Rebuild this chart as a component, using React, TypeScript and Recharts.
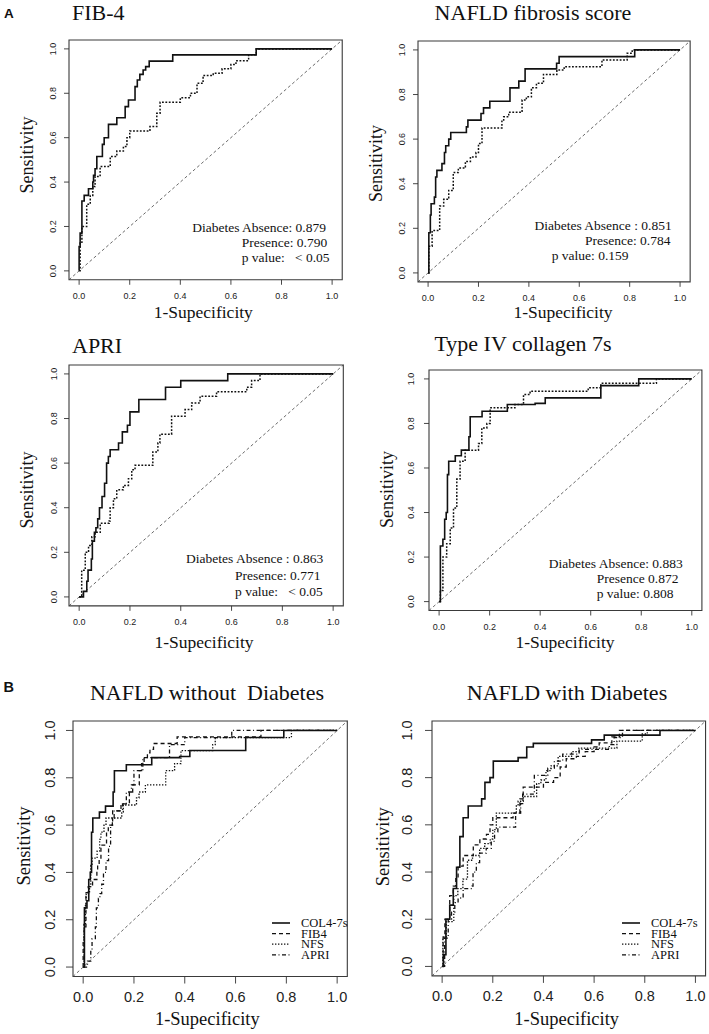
import React from "react";
import { LineChart, Line, XAxis, YAxis, ReferenceArea, ReferenceLine, Legend } from "recharts";

const SERIF = "'Liberation Serif', 'Times New Roman', serif";
const SANS = "'Liberation Sans', Arial, sans-serif";

const axisTicks = [0, 0.2, 0.4, 0.6, 0.8, 1.0];

// ROC vertices: [1-specificity, sensitivity]
const fib4Absence = [
  [0, 0], [0, 0.11], [0.004, 0.17], [0.011, 0.315], [0.02, 0.34], [0.037, 0.37], [0.054, 0.4],
  [0.057, 0.43], [0.063, 0.46], [0.07, 0.515], [0.092, 0.57], [0.099, 0.6], [0.116, 0.66],
  [0.149, 0.69], [0.182, 0.74], [0.195, 0.77], [0.221, 0.83], [0.23, 0.86], [0.24, 0.885],
  [0.253, 0.905], [0.263, 0.92], [0.277, 0.945], [0.37, 0.973], [0.7, 1], [1, 1],
];
const fib4Presence = [
  [0, 0], [0.004, 0.125], [0.011, 0.2], [0.03, 0.3], [0.044, 0.34], [0.054, 0.38], [0.063, 0.425],
  [0.083, 0.47], [0.123, 0.515], [0.149, 0.54], [0.175, 0.56], [0.189, 0.6], [0.2, 0.63],
  [0.28, 0.65], [0.307, 0.71], [0.32, 0.76], [0.4, 0.78], [0.44, 0.8], [0.466, 0.845],
  [0.49, 0.88], [0.53, 0.89], [0.565, 0.91], [0.6, 0.93], [0.62, 0.947], [0.67, 0.973],
  [0.7, 1], [1, 1],
];
const nfsAbsence = [
  [0, 0], [0.003, 0.18], [0.009, 0.26], [0.012, 0.31], [0.025, 0.34], [0.03, 0.43], [0.035, 0.46],
  [0.055, 0.49], [0.065, 0.54], [0.07, 0.57], [0.082, 0.6], [0.09, 0.63], [0.152, 0.655],
  [0.158, 0.685], [0.21, 0.715], [0.22, 0.74], [0.245, 0.77], [0.325, 0.83], [0.36, 0.86],
  [0.385, 0.915], [0.51, 0.94], [0.52, 0.97], [0.82, 1], [1, 1],
];
const nfsPresence = [
  [0, 0], [0.003, 0.12], [0.016, 0.19], [0.046, 0.3], [0.062, 0.33], [0.082, 0.37], [0.1, 0.45],
  [0.12, 0.47], [0.148, 0.5], [0.168, 0.52], [0.19, 0.54], [0.2, 0.58], [0.214, 0.65],
  [0.293, 0.68], [0.3, 0.7], [0.32, 0.72], [0.373, 0.775], [0.39, 0.79], [0.41, 0.83],
  [0.43, 0.85], [0.458, 0.89], [0.511, 0.91], [0.54, 0.925], [0.69, 0.955], [0.79, 0.985],
  [0.81, 1], [1, 1],
];
const apriAbsence = [
  [0, 0], [0.017, 0.025], [0.03, 0.07], [0.035, 0.12], [0.048, 0.17], [0.052, 0.25], [0.06, 0.29],
  [0.066, 0.31], [0.073, 0.35], [0.08, 0.4], [0.09, 0.45], [0.1, 0.51], [0.108, 0.6],
  [0.115, 0.63], [0.122, 0.66], [0.155, 0.69], [0.17, 0.74], [0.19, 0.77], [0.2, 0.83],
  [0.235, 0.885], [0.34, 0.94], [0.4, 0.97], [0.585, 1], [1, 1],
];
const apriPresence = [
  [0, 0], [0.01, 0.12], [0.024, 0.2], [0.037, 0.23], [0.05, 0.27], [0.063, 0.29], [0.083, 0.33],
  [0.118, 0.34], [0.122, 0.4], [0.135, 0.44], [0.148, 0.48], [0.174, 0.5], [0.194, 0.53],
  [0.207, 0.57], [0.22, 0.59], [0.29, 0.65], [0.31, 0.69], [0.318, 0.73], [0.364, 0.81],
  [0.417, 0.84], [0.443, 0.87], [0.476, 0.9], [0.541, 0.92], [0.66, 0.94], [0.679, 0.97],
  [0.712, 1], [1, 1],
];
const col4Absence = [
  [0, 0], [0.005, 0.25], [0.015, 0.28], [0.022, 0.37], [0.028, 0.4], [0.033, 0.57], [0.038, 0.63],
  [0.064, 0.655], [0.088, 0.68], [0.118, 0.74], [0.123, 0.83], [0.17, 0.855], [0.27, 0.885],
  [0.38, 0.89], [0.42, 0.915], [0.64, 0.97], [0.79, 1], [1, 1],
];
const col4Presence = [
  [0, 0], [0.005, 0.05], [0.015, 0.2], [0.03, 0.26], [0.044, 0.33], [0.057, 0.42], [0.07, 0.55],
  [0.083, 0.63], [0.103, 0.68], [0.156, 0.71], [0.169, 0.78], [0.189, 0.8], [0.202, 0.87],
  [0.3, 0.885], [0.334, 0.93], [0.36, 0.945], [0.59, 0.96], [0.64, 0.98], [0.86, 1], [1, 1],
];

const aTitles = ["FIB-4", "NAFLD fibrosis score", "APRI", "Type IV collagen 7s"];
const bTitles = ["NAFLD without  Diabetes", "NAFLD with Diabetes"];
const absenceText = ["Diabetes Absence: 0.879", "Diabetes Absence : 0.851", "Diabetes Absence : 0.863", "Diabetes Absence: 0.883"];
const presenceText = ["Presence: 0.790", "Presence: 0.784", "Presence: 0.771", "Presence 0.872"];
const pValueText = ["p value:   < 0.05", "p value: 0.159", "p value:   < 0.05", "p value: 0.808"];
const markerNames = ["COL4-7s", "FIB4", "NFS", "APRI"];

const toPts = (arr: number[][]) => arr.map(([x, y]) => ({ x, y }));

const SOLID = { width: 1.6, dash: undefined as string | undefined };
const DOTTED_A = { width: 1.5, dash: "1.8 1.6" };
const bStyles: Record<string, { width: number; dash?: string }> = {
  "COL4-7s": { width: 1.6 },
  FIB4: { width: 1.3, dash: "4 3" },
  NFS: { width: 1.3, dash: "1.4 1.6" },
  APRI: { width: 1.3, dash: "4 2.5 1 2.5" },
};

// pixel positions of the 0 and 1 ticks of each panel
const panels = [
  { x0: 79, x1: 332, y1: 49, y0: 271, big: false, xOff: 16, yOff: 16.5 },
  { x0: 428, x1: 680, y1: 50, y0: 273, big: false, xOff: 16, yOff: 16.5 },
  { x0: 79, x1: 333, y1: 374.3, y0: 597.3, big: false, xOff: 16, yOff: 15.5 },
  { x0: 439, x1: 691.7, y1: 379, y0: 601.7, big: false, xOff: 16, yOff: 18.5 },
  { x0: 82.7, x1: 336.7, y1: 730.7, y0: 967.3, big: true, xOff: 20, yOff: 23 },
  { x0: 441.7, x1: 695, y1: 730.7, y0: 966.7, big: true, xOff: 20, yOff: 25 },
];

const PAD_L = 46, PAD_B = 34, PAD_T = 4, PAD_R = 4;
const LEG_W = 96, LEG_H = 50;

function boxOf(p: typeof panels[number]) {
  const ux = p.x1 - p.x0, uy = p.y0 - p.y1;
  return { left: p.x0 - 0.04 * ux, right: p.x1 + 0.04 * ux, top: p.y1 - 0.04 * uy, bottom: p.y0 + 0.04 * uy };
}

type Series = { name: string; points: number[][]; width: number; dash?: string };

function LegendBox({ payload }: any) {
  const items = (payload || []).slice().sort((a: any, b: any) => markerNames.indexOf(a.value) - markerNames.indexOf(b.value));
  return (
    <svg width={LEG_W} height={LEG_H} style={{ display: "block", overflow: "visible" }}>
      {items.map((it: any, i: number) => {
        const st = bStyles[it.value] || { width: 1.3 };
        const cy = 6 + i * 10.6;
        return (
          <g key={it.value}>
            <line x1={0} x2={18} y1={cy} y2={cy} stroke="#111" strokeWidth={st.width} strokeDasharray={st.dash} />
            <text x={29} y={cy + 4.2} fontFamily={SERIF} fontSize={12.5} fill="#111">{it.value}</text>
          </g>
        );
      })}
    </svg>
  );
}

function RocChart({ panel, series, legendAt }: { panel: typeof panels[number]; series: Series[]; legendAt?: [number, number] }) {
  const b = boxOf(panel);
  const w = b.right - b.left + PAD_L + PAD_R;
  const h = b.bottom - b.top + PAD_T + PAD_B;
  const divLeft = b.left - PAD_L, divTop = b.top - PAD_T;
  const fs = panel.big ? 14.5 : 9;
  const tickSize = panel.big ? 7 : 5;
  const xShift = panel.xOff + 0.36 * fs - tickSize;
  const yShift = panel.yOff - 0.36 * fs - tickSize;
  const fmt = (v: number) => v.toFixed(1);
  return (
    <div style={{ position: "absolute", left: divLeft, top: divTop }}>
      <LineChart width={w} height={h} margin={{ top: PAD_T, right: PAD_R, left: 0, bottom: 0 }}>
        <XAxis
          type="number"
          dataKey="x"
          domain={[-0.04, 1.04]}
          ticks={axisTicks}
          allowDataOverflow
          height={PAD_B}
          axisLine={false}
          tickSize={tickSize}
          tickMargin={0}
          tickLine={{ stroke: "#333", strokeWidth: 0.9 }}
          tick={(p: any) => (
            <text x={p.x} y={p.y + xShift} textAnchor="middle" fontFamily={SANS} fontSize={fs} fill="#222">
              {fmt(p.payload.value)}
            </text>
          )}
        />
        <YAxis
          type="number"
          dataKey="y"
          domain={[-0.04, 1.04]}
          ticks={axisTicks}
          allowDataOverflow
          width={PAD_L}
          axisLine={false}
          tickSize={tickSize}
          tickMargin={0}
          tickLine={{ stroke: "#333", strokeWidth: 0.9 }}
          tick={(p: any) => {
            const bx = p.x - yShift;
            return (
              <text x={bx} y={p.y} transform={`rotate(-90 ${bx} ${p.y})`} textAnchor="middle" fontFamily={SANS} fontSize={fs} fill="#222">
                {fmt(p.payload.value)}
              </text>
            );
          }}
        />
        <ReferenceArea x1={-0.04} x2={1.04} y1={-0.04} y2={1.04} fill="none" stroke="#3a3a3a" strokeWidth={1.1} ifOverflow="visible" />
        <ReferenceLine
          segment={[{ x: -0.04, y: -0.04 }, { x: 1.04, y: 1.04 }]}
          stroke="#444"
          strokeWidth={0.8}
          strokeDasharray="3 2.5"
          ifOverflow="visible"
        />
        {series.map((s) => (
          <Line
            key={s.name}
            name={s.name}
            data={toPts(s.points)}
            dataKey="y"
            type="stepAfter"
            stroke="#111"
            strokeWidth={s.width}
            strokeDasharray={s.dash}
            dot={false}
            activeDot={false}
            isAnimationActive={false}
          />
        ))}
        {legendAt && (
          <Legend
            layout="vertical"
            align="center"
            verticalAlign="middle"
            wrapperStyle={{ left: legendAt[0] - divLeft, top: legendAt[1] - divTop, width: LEG_W, height: LEG_H }}
            content={(props: any) => <LegendBox payload={props.payload} />}
          />
        )}
      </LineChart>
    </div>
  );
}

const aSeries: Series[][] = [
  [{ name: "Presence", points: fib4Presence, ...DOTTED_A }, { name: "Absence", points: fib4Absence, ...SOLID }],
  [{ name: "Presence", points: nfsPresence, ...DOTTED_A }, { name: "Absence", points: nfsAbsence, ...SOLID }],
  [{ name: "Presence", points: apriPresence, ...DOTTED_A }, { name: "Absence", points: apriAbsence, ...SOLID }],
  [{ name: "Presence", points: col4Presence, ...DOTTED_A }, { name: "Absence", points: col4Absence, ...SOLID }],
];

const bSeries = (col4: number[][], fib4: number[][], nfs: number[][], apri: number[][]): Series[] => [
  { name: "APRI", points: apri, ...bStyles.APRI },
  { name: "NFS", points: nfs, ...bStyles.NFS },
  { name: "FIB4", points: fib4, ...bStyles.FIB4 },
  { name: "COL4-7s", points: col4, ...bStyles["COL4-7s"] },
];

// text placements: [x, baseline, anchor]
const titlePos: [number, number, string][] = [
  [72, 20, "start"], [533, 20, "middle"], [72, 352.5, "start"], [523, 350.5, "middle"],
  [207, 700, "middle"], [567, 700, "middle"],
];
const sensPos = [[32.5, 155], [382.3, 163.5], [33, 490], [392.7, 489.5], [29.5, 846], [389.3, 846.7]];
const specPos = [[203.3, 318], [563, 318], [204, 647.5], [565, 647.5], [207.3, 1025], [566.7, 1025]];
const notePos: [number, number, string][][] = [
  [[326, 231.5, "end"], [241.7, 246.5, "start"], [241.7, 261.7, "start"]],
  [[671.7, 230, "end"], [585, 245, "start"], [551.7, 260, "start"]],
  [[323.3, 563.3, "end"], [235, 579.5, "start"], [235, 595.5, "start"]],
  [[682.7, 568, "end"], [596.7, 583, "start"], [596.7, 598, "start"]],
];

export default function App() {
  const titles = [...aTitles, ...bTitles];
  return (
    <div style={{ position: "absolute", left: 0, top: 0, width: 709, height: 1034, background: "#fff", overflow: "hidden" }}>
      {aSeries.map((s, i) => (
        <RocChart key={i} panel={panels[i]} series={s} />
      ))}
      <RocChart panel={panels[4]} series={bSeries(col4Absence, fib4Absence, nfsAbsence, apriAbsence)} legendAt={[272, 917]} />
      <RocChart panel={panels[5]} series={bSeries(col4Presence, fib4Presence, nfsPresence, apriPresence)} legendAt={[622, 917]} />
      <svg width={709} height={1034} style={{ position: "absolute", left: 0, top: 0, pointerEvents: "none" }}>
        <text x={4} y={18.3} fontFamily={SANS} fontWeight="bold" fontSize={13.5} fill="#111">A</text>
        <text x={3.5} y={691.7} fontFamily={SANS} fontWeight="bold" fontSize={14.5} fill="#111">B</text>
        {titles.map((t, i) => (
          <text key={t} x={titlePos[i][0]} y={titlePos[i][1]} textAnchor={titlePos[i][2] as any} fontFamily={SERIF} fontSize={22} fill="#111" style={{ whiteSpace: "pre" }}>
            {t}
          </text>
        ))}
        {sensPos.map(([x, y], i) => (
          <text key={"s" + i} x={x} y={y} transform={`rotate(-90 ${x} ${y})`} textAnchor="middle" fontFamily={SERIF} fontSize={i > 3 ? 18.5 : 18} fill="#111">
            Sensitivity
          </text>
        ))}
        {specPos.map(([x, y], i) => (
          <text key={"x" + i} x={x} y={y} textAnchor="middle" fontFamily={SERIF} fontSize={i > 3 ? 18.5 : 17.5} fill="#111">
            1-Supecificity
          </text>
        ))}
        {notePos.map((rows, i) =>
          [absenceText[i], presenceText[i], pValueText[i]].map((t, j) => (
            <text key={`n${i}${j}`} x={rows[j][0]} y={rows[j][1]} textAnchor={rows[j][2] as any} fontFamily={SERIF} fontSize={13.5} fill="#111" style={{ whiteSpace: "pre" }}>
              {t}
            </text>
          ))
        )}
      </svg>
    </div>
  );
}
